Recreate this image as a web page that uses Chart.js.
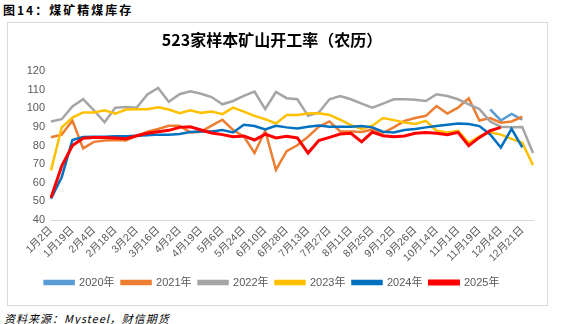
<!DOCTYPE html>
<html>
<head>
<meta charset="utf-8">
<script src="https://cdn.jsdelivr.net/npm/chart.js@4.4.1/dist/chart.umd.min.js"></script>
<style>
    body {
        margin: 0;
        width: 577px;
        height: 324px;
        background: #fff;
        position: relative;
        overflow: hidden;
        font-family: 'Noto Sans CJK SC', sans-serif;
    }
    .fig-title {
        position: absolute;
        left: 3px;
        top: 1px;
        font-size: 12px;
        font-weight: bold;
        letter-spacing: 2px;
        color: #000;
    }
    .box {
        position: absolute;
        left: 7px;
        top: 22px;
        width: 539px;
        height: 282px;
        border: 1px solid #d9d9d9;
    }
    .source {
        position: absolute;
        left: 4px;
        top: 310px;
        font-size: 11px;
        font-style: italic;
        letter-spacing: 1px;
        color: #000;
    }
</style>
</head>
<body>
<div class="fig-title">图14：煤矿精煤库存</div>
<div class="box"><canvas id="chart" width="539" height="282"></canvas></div>
<div class="source">资料来源：Mysteel，财信期货</div>
<script>
    // 农历周度，每两周一个刻度标签
    const tickLabels = ['1月2日', '1月19日', '2月4日', '2月18日', '3月2日', '3月16日', '4月2日', '4月19日',
        '5月6日', '5月24日', '6月10日', '6月28日', '7月13日', '7月27日', '8月11日', '8月25日',
        '9月12日', '9月26日', '10月14日', '11月1日', '11月19日', '12月4日', '12月21日'];

    const years = ['2020年', '2021年', '2022年', '2023年', '2024年', '2025年'];

    // 2020年只有年底几周
    const start2020 = 41;
    const y2020 = [99.5, 93.5, 97, 94];
    const y2021 = [84.5, 85.9, 93.5, 78.5, 82, 82.8, 83, 82.8, 85.2, 87.5, 88.9, 90.7, 90.7, 87.1, 87.5, 90.7,
        93.9, 88.4, 85, 76, 88, 67, 77, 80.2, 84.8, 90.1, 93, 87.6, 87.6, 87.3, 88.7, 86.9, 89.8, 93.3,
        94.8, 96, 101.3, 97.2, 100.4, 105.5, 93.5, 94.8, 92.3, 93, 95.5];
    const y2022 = [93, 94.2, 101, 105, 99, 92.5, 100.4, 100.8, 100.4, 107.5, 111, 103.5, 107.6, 109.2, 107.9,
        106.1, 102.2, 104, 106.7, 109, 99.6, 108.8, 105.5, 104.9, 96, 97.8, 104.9, 106.7, 104.9, 102.6,
        100.4, 102.6, 104.9, 104.9, 104.7, 104, 107.6, 106.7, 104.9, 102.2, 99.6, 93, 90.1, 89.8, 90, 76];
    const y2023 = [66.7, 89.8, 95.1, 97.8, 97.8, 99, 97.2, 99.4, 99.6, 99.6, 100.6, 99.4, 97.4, 99, 97.6, 98.3,
        96.9, 100.4, 98.3, 96, 94.2, 91.9, 96.5, 96.4, 97.2, 97.4, 96.5, 93.9, 91, 88.9, 90.7, 94.8,
        93.7, 92.4, 91.6, 93.3, 88, 87.1, 88, 81.5, 85, 87.1, 85.9, 83.6, 81.5, 69.5];
    const y2024 = [51.5, 63, 83, 84.6, 84.8, 84.8, 85, 85, 85.3, 85.6, 85.9, 85.9, 86.2, 87.3, 87.6, 87.6,
        88.4, 87.1, 91.2, 90.5, 88.7, 90.7, 89.8, 89.2, 90.1, 90.8, 90.1, 90.1, 90.1, 90.5, 89.8, 87.5,
        87.1, 88.4, 88.9, 89.8, 90.5, 91.2, 91.9, 91.6, 90.5, 86, 79, 89, 79];
    const y2025 = [52, 69, 80, 84, 84.4, 84.4, 84.1, 83.7, 85.3, 86.6, 87.5, 88.2, 89.8, 90.1, 88.4, 86.8,
        85.9, 84.8, 85.2, 83, 86.2, 84.1, 85, 84.1, 76, 82.7, 84.4, 86.2, 86.6, 82, 87.3, 85.3, 84.8,
        85.2, 86.6, 87.1, 86.6, 85.9, 87.1, 80, 84.4, 88, 89.8];

    const colors = ['#5B9BD5', '#ED7D31', '#A5A5A5', '#FFC000', '#0070C0', '#FF0000'];

    // 每个标签后跟一个不显示的周
    const categories = tickLabels.reduce((acc, label) => {
        acc.push(label, '');
        return acc;
    }, []);

    const series = [
        new Array(start2020).fill(null).concat(y2020),
        y2021, y2022, y2023, y2024, y2025
    ];

    const fontFamily = "'Liberation Sans', 'Noto Sans CJK SC', sans-serif";

    const datasets = years.map((name, i) => ({
        label: name,
        data: series[i],
        borderColor: colors[i],
        backgroundColor: colors[i],
        borderWidth: i === years.length - 1 ? 3 : 2.5,
        pointRadius: 0,
        tension: 0,
        // 后面的年份画在上层
        order: years.length - i
    }));

    new Chart(document.getElementById('chart'), {
        type: 'line',
        data: { labels: categories, datasets },
        options: {
            responsive: false,
            animation: false,
            devicePixelRatio: 1,
            layout: { padding: { left: 3, right: 14, top: 0, bottom: 7 } },
            plugins: {
                title: {
                    display: true,
                    text: '523家样本矿山开工率（农历）',
                    color: '#000',
                    font: { family: "'Noto Sans CJK SC', sans-serif", size: 16, weight: 'bold' },
                    padding: { top: 7, bottom: 22 }
                },
                legend: {
                    position: 'bottom',
                    labels: {
                        boxWidth: 29,
                        boxHeight: 3,
                        padding: 7,
                        color: '#595959',
                        font: { family: fontFamily, size: 11 },
                        sort: (a, b) => a.datasetIndex - b.datasetIndex
                    }
                },
                tooltip: { enabled: false }
            },
            scales: {
                x: {
                    grid: { display: false, drawTicks: false },
                    border: { display: true, color: '#d9d9d9', width: 1 },
                    ticks: {
                        autoSkip: false,
                        minRotation: 45,
                        maxRotation: 45,
                        padding: 4,
                        color: '#595959',
                        font: { family: fontFamily, size: 10.5 }
                    },
                    afterFit: (scale) => { scale.height = 50; }
                },
                y: {
                    min: 40,
                    max: 120,
                    grid: { display: false, drawTicks: false },
                    border: { display: false },
                    ticks: {
                        stepSize: 10,
                        padding: 6,
                        color: '#595959',
                        font: { family: fontFamily, size: 11 }
                    },
                    afterFit: (scale) => { scale.width = 40; }
                }
            }
        }
    });
</script>
</body>
</html>
